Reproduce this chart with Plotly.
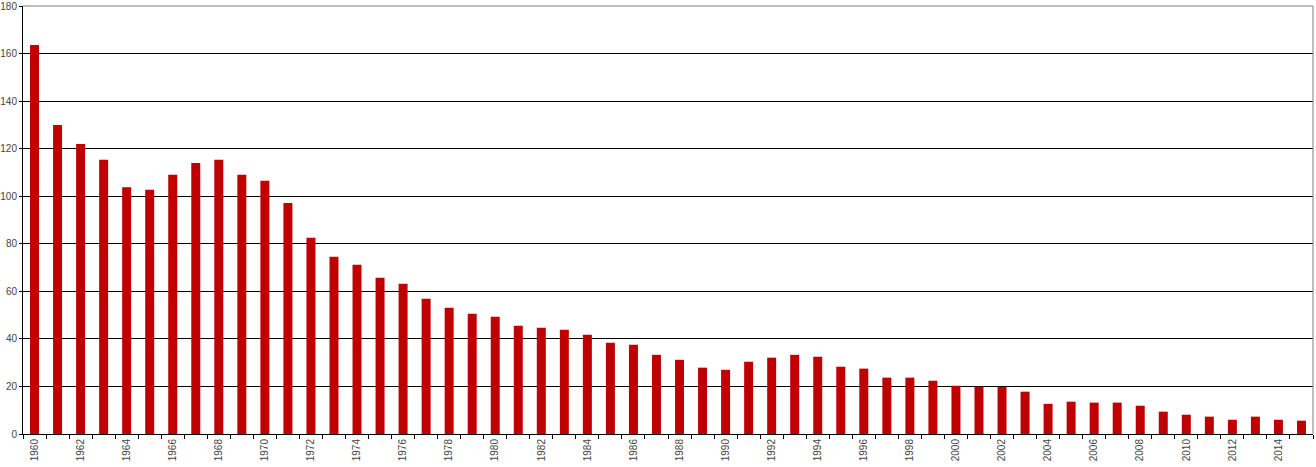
import plotly.graph_objects as go

years = list(range(1960, 2016))
values = [
    163.6, 130.0, 122.0, 115.3, 103.8, 102.7, 109.0, 114.0, 115.3, 109.0,
    106.5, 97.2, 82.5, 74.5, 71.2, 65.7, 63.2, 56.9, 53.1, 50.6,
    49.3, 45.5, 44.7, 43.8, 41.7, 38.4, 37.5, 33.3, 31.2, 27.9,
    27.0, 30.4, 32.1, 33.3, 32.5, 28.3, 27.5, 23.7, 23.7, 22.4,
    20.3, 19.9, 19.8, 17.8, 12.7, 13.6, 13.2, 13.2, 11.9, 9.4,
    8.1, 7.3, 6.0, 7.3, 6.0, 5.6,
]
label_years = [y for y in years if y % 2 == 0]
label_text = [str(y) for y in label_years]

fig = go.Figure(
    go.Bar(x=years, y=values, marker_color="#c00000", marker_line_width=0)
)

fig.update_layout(
    width=1316,
    height=467,
    margin=dict(l=23, r=3, t=6, b=33, pad=0),
    paper_bgcolor="white",
    plot_bgcolor="white",
    bargap=0.61,
    showlegend=False,
    font=dict(family="Liberation Sans, Arial, sans-serif", size=10, color="#444444"),
    shapes=[
        # grey frame on top and right, as in the original
        dict(type="line", xref="paper", yref="paper", x0=0, x1=1, y0=1, y1=1,
             line=dict(color="#808080", width=1)),
        dict(type="line", xref="paper", yref="paper", x0=1, x1=1, y0=0, y1=1,
             line=dict(color="#808080", width=1)),
    ],
)

fig.update_xaxes(
    range=[1959.5, 2015.5],
    tickmode="array",
    tickvals=label_years,
    ticktext=label_text,
    tickangle=-90,
    ticks="",
    showgrid=False,
    showline=True,
    linecolor="black",
    linewidth=1,
    automargin=False,
    minor=dict(tick0=1959.5, dtick=1, ticks="outside", ticklen=4,
               tickcolor="black", showgrid=False),
)
fig.update_yaxes(
    range=[0, 180],
    dtick=20,
    ticks="outside",
    ticklen=3,
    tickcolor="black",
    showgrid=True,
    gridcolor="black",
    gridwidth=1,
    showline=True,
    linecolor="black",
    linewidth=1,
    zeroline=False,
    automargin=False,
)

fig.write_html(
    "out.html",
    config={"displayModeBar": False},
    post_script="document.body.style.margin='0';",
)
